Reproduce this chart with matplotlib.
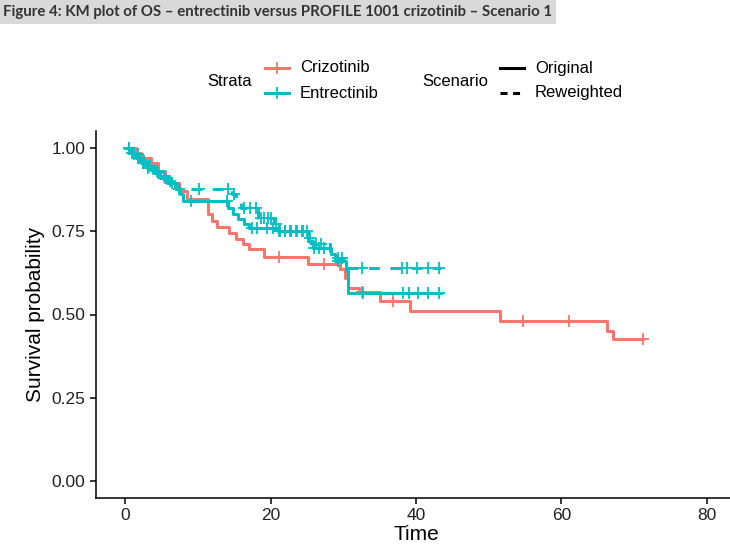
import numpy as np
import matplotlib.pyplot as plt
from matplotlib.lines import Line2D
from matplotlib.patches import Rectangle

plt.rcParams["font.family"] = ["Liberation Sans", "DejaVu Sans"]

# KM step values (time, survival)
criz_time = [0, 1.5, 2.2, 3.5, 4.5, 5.5, 6.3, 7.4, 8.5, 11.4, 12.0, 12.7, 14.3, 15.2,
             16.2, 17.0, 19.1, 25.1, 29.6, 30.3, 30.7, 32.1, 35.1, 39.2, 51.6, 66.3, 67.1, 71.2]
criz_surv = [1.0, 0.985, 0.97, 0.955, 0.93, 0.91, 0.895, 0.87, 0.845, 0.80, 0.78, 0.763, 0.745, 0.725,
             0.71, 0.695, 0.672, 0.65, 0.635, 0.61, 0.58, 0.566, 0.54, 0.509, 0.482, 0.452, 0.428, 0.428]
criz_cens = [21.1, 27.3, 32.6, 36.9, 54.7, 61.0, 71.2]

ent_time = [0, 0.8, 1.5, 2.2, 3.0, 3.8, 4.8, 5.7, 6.8, 7.5, 8.0, 14.2, 14.8, 15.5, 16.3,
            17.0, 21.0, 25.2, 25.8, 28.3, 28.9, 30.4, 30.7, 43.5]
ent_surv = [1.0, 0.985, 0.97, 0.955, 0.94, 0.925, 0.91, 0.895, 0.88, 0.86, 0.84, 0.82, 0.80, 0.785, 0.77,
            0.76, 0.75, 0.72, 0.70, 0.68, 0.66, 0.63, 0.565, 0.565]
ent_cens = [0.5, 1.0, 1.8, 2.5, 3.2, 4.5, 5.5, 6.5, 9.0, 14.0, 17.5, 18.2, 19.5, 20.3, 21.2,
            22.0, 22.7, 23.5, 24.3, 25.0, 26.0, 26.7, 27.4, 29.3, 32.7, 38.2, 39.0, 40.3, 41.7, 43.2]

rw_time = [0, 1.0, 2.0, 3.0, 4.2, 5.0, 6.0, 7.0, 14.7, 15.3, 16.0, 18.3, 20.5, 21.0, 25.0,
           25.7, 28.2, 29.0, 30.4, 43.5]
rw_surv = [1.0, 0.98, 0.96, 0.945, 0.93, 0.915, 0.9, 0.875, 0.86, 0.84, 0.82, 0.79, 0.77, 0.75, 0.73,
           0.71, 0.69, 0.67, 0.638, 0.638]
rw_cens = [0.5, 1.2, 1.8, 2.6, 3.4, 4.4, 5.3, 6.2, 7.4, 10.1, 14.1, 15.0, 16.4, 17.2, 18.0, 18.7, 19.1,
           19.6, 20.1, 20.8, 21.3, 22.0, 22.8, 23.7, 24.5, 25.4, 26.2, 27.0, 29.3, 29.8, 32.6,
           38.1, 38.8, 40.2, 41.7, 43.2]

x_ticks = [0, 20, 40, 60, 80]
y_ticks = [0.0, 0.25, 0.5, 0.75, 1.0]

RED = "#F8766D"
TEAL = "#00BFC4"
W, H = 730, 545
DASH = (0, (3.5, 3.5))


def surv_at(times, surv, t):
    idx = np.searchsorted(times, t, side="right") - 1
    return np.asarray(surv)[idx]


fig = plt.figure(figsize=(W / 100, H / 100), dpi=100)
ax = fig.add_axes([96 / W, 47 / H, 640 / W, 367 / H])

curves = [
    (criz_time, criz_surv, criz_cens, RED, "-"),
    (ent_time, ent_surv, ent_cens, TEAL, "-"),
    (rw_time, rw_surv, rw_cens, TEAL, DASH),
]
for t, s, c, col, ls in curves:
    ax.step(t, s, where="post", color=col, lw=2.2, linestyle=ls, zorder=3)
    ax.plot(c, surv_at(t, s, c), linestyle="none", marker="+", color=col,
            markersize=8, markeredgewidth=1.3, zorder=4)

ax.set_xlim(-4, 84)
ax.set_ylim(-0.05, 1.05)
ax.set_xticks(x_ticks)
ax.set_yticks(y_ticks)
ax.set_yticklabels([f"{v:.2f}" for v in y_ticks])
for side in ["top", "right"]:
    ax.spines[side].set_visible(False)
for side in ["left", "bottom"]:
    ax.spines[side].set_linewidth(1.1)
ax.tick_params(labelsize=12.5, length=4, width=1.1, colors="black", labelcolor="#222222")
ax.set_xlabel("Time", fontsize=15, labelpad=1)
ax.set_ylabel("Survival probability", fontsize=15, labelpad=5)

# title banner
fig.add_artist(Rectangle((0, 1 - 24 / H), 556 / W, 24 / H, transform=fig.transFigure,
                         facecolor="#d9d9d9", edgecolor="none"))
fig.text(3 / W, 1 - 12 / H, "Figure 4: KM plot of OS \u2013 entrectinib versus PROFILE 1001 crizotinib \u2013 Scenario 1",
         fontsize=10.8, fontweight="bold", family="Lato", color="#333333", va="center", ha="left")


# legend drawn by hand (ggplot style, titles on the left)
def fx(x):
    return x / W


def fy(y):
    return 1 - y / H


fs = 12
fig.text(fx(207), fy(82), "Strata", fontsize=fs, va="center")
for y, col, lab in [(68, RED, "Crizotinib"), (93, TEAL, "Entrectinib")]:
    fig.add_artist(Line2D([fx(265), fx(289)], [fy(y), fy(y)], color=col, lw=2.2))
    fig.add_artist(Line2D([fx(277)], [fy(y)], color=col, marker="+", markersize=8, markeredgewidth=1.3))
    fig.text(fx(300), fy(y), lab, fontsize=fs, va="center")

fig.text(fx(422), fy(82), "Scenario", fontsize=fs, va="center")
for y, ls, lab in [(68, "-", "Original"), (93, (0, (2.3, 1.8)), "Reweighted")]:
    fig.add_artist(Line2D([fx(500), fx(524)], [fy(y), fy(y)], color="black", lw=2.2, linestyle=ls))
    fig.text(fx(535), fy(y), lab, fontsize=fs, va="center")

fig.savefig("out.png", dpi=100)
